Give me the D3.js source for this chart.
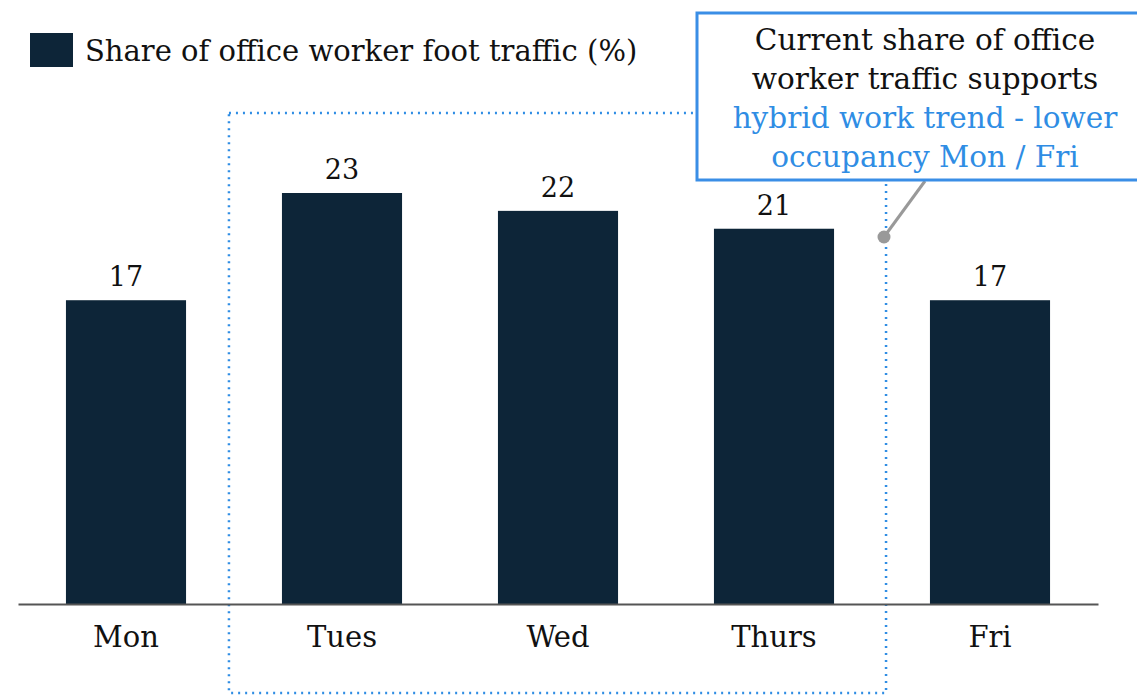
<!DOCTYPE html>
<html>
<head>
<meta charset="utf-8">
<script src="https://cdn.jsdelivr.net/npm/d3@7"></script>
<style>
  body { margin: 0; background: #fff; }
  text { font-family: "DejaVu Serif", serif; }
</style>
</head>
<body>
<svg id="chart" width="1137" height="697"></svg>
<script>
const days = ['Mon', 'Tues', 'Wed', 'Thurs', 'Fri'];
const share = [17, 23, 22, 21, 17];
const legendLabel = 'Share of office worker foot traffic (%)';
const noteDark = ['Current share of office', 'worker traffic supports'];
const noteBlue = ['hybrid work trend - lower', 'occupancy Mon / Fri'];
const highlighted = ['Tues', 'Wed', 'Thurs'];

const svg = d3.select('#chart');
const barColor = '#0d2538';
const blue = '#2f8de4';

const x = d3.scaleBand()
    .domain(days)
    .range([18, 1098])
    .paddingInner(0.444)
    .paddingOuter(0.222);

const y = d3.scaleLinear()
    .domain([0, 23])
    .range([604, 193]);

// dotted highlight box round the mid-week bars
const first = x(highlighted[0]);
const last = x(highlighted[highlighted.length - 1]) + x.bandwidth();
svg.append('rect')
    .attr('x', first - 53)
    .attr('y', 113)
    .attr('width', last - first + 105)
    .attr('height', 580)
    .attr('fill', 'none')
    .attr('stroke', blue)
    .attr('stroke-width', 2.5)
    .attr('stroke-dasharray', '2,5');

svg.selectAll('rect.bar')
    .data(share)
    .enter()
    .append('rect')
    .attr('class', 'bar')
    .attr('x', (d, i) => x(days[i]))
    .attr('y', (d) => y(d))
    .attr('width', x.bandwidth())
    .attr('height', (d) => y(0) - y(d))
    .attr('fill', barColor);

svg.selectAll('text.val')
    .data(share)
    .enter()
    .append('text')
    .attr('class', 'val')
    .attr('x', (d, i) => x(days[i]) + x.bandwidth() / 2)
    .attr('y', (d) => y(d) - 14)
    .attr('text-anchor', 'middle')
    .attr('font-size', 27)
    .attr('fill', '#111')
    .text((d) => d);

const axis = svg.append('g')
    .attr('transform', `translate(0, ${y(0)})`)
    .call(d3.axisBottom(x).tickSize(0).tickPadding(22));
axis.select('.domain')
    .attr('stroke', '#555')
    .attr('stroke-width', 2);
axis.selectAll('text')
    .attr('font-family', '"DejaVu Serif", serif')
    .attr('font-size', 29)
    .attr('fill', '#111')
    .attr('dy', '0.71em');

// legend
svg.append('rect')
    .attr('x', 30).attr('y', 33)
    .attr('width', 43).attr('height', 34)
    .attr('fill', barColor);
svg.append('text')
    .attr('x', 85).attr('y', 61)
    .attr('font-size', 29)
    .attr('fill', '#111')
    .text(legendLabel);

// callout
svg.append('line')
    .attr('x1', 925).attr('y1', 181)
    .attr('x2', 884).attr('y2', 237)
    .attr('stroke', '#999')
    .attr('stroke-width', 3);
svg.append('circle')
    .attr('cx', 884).attr('cy', 237).attr('r', 6.5)
    .attr('fill', '#999');
svg.append('rect')
    .attr('x', 697).attr('y', 13)
    .attr('width', 450).attr('height', 167)
    .attr('fill', '#fff')
    .attr('stroke', '#3a8ee6')
    .attr('stroke-width', 3);

const note = svg.append('text')
    .attr('text-anchor', 'middle')
    .attr('font-size', 29.5);
noteDark.concat(noteBlue).forEach((line, i) => {
  note.append('tspan')
      .attr('x', 925)
      .attr('y', 50 + i * 39)
      .attr('fill', i < noteDark.length ? '#111' : blue)
      .text(line);
});
</script>
</body>
</html>
